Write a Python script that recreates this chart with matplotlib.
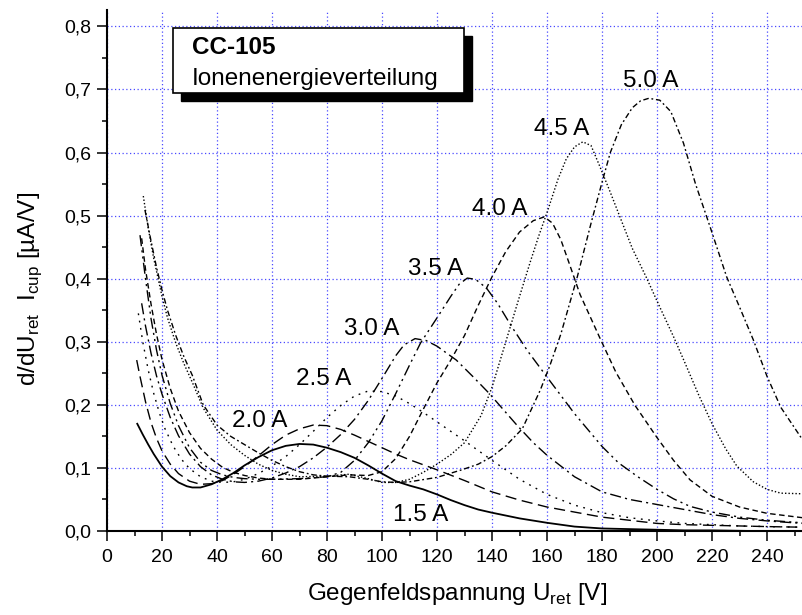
import matplotlib
matplotlib.use("Agg")
import matplotlib.pyplot as plt
from matplotlib.patches import Rectangle
from matplotlib.ticker import MultipleLocator, FuncFormatter

plt.rcParams['font.family'] = ['Liberation Sans', 'DejaVu Sans']
plt.rcParams['mathtext.fontset'] = 'custom'
plt.rcParams['mathtext.rm'] = 'Liberation Sans'

# curve data: x = U_ret [V], y = dI/dU [uA/V]
x15 = [11, 13, 15, 17, 20, 23, 26, 29, 31, 34, 38, 42, 46, 50, 55, 60, 65, 70, 75, 80,
       85, 90, 95, 100, 105, 110, 115, 120, 125, 130, 135, 140, 150, 160, 170, 180, 190,
       200, 210, 220, 235, 253]
y15 = [0.170, 0.153, 0.137, 0.122, 0.102, 0.087, 0.077, 0.071, 0.069, 0.069, 0.074, 0.082,
       0.092, 0.104, 0.117, 0.128, 0.135, 0.138, 0.137, 0.132, 0.125, 0.116, 0.104, 0.091,
       0.079, 0.072, 0.066, 0.058, 0.049, 0.041, 0.034, 0.029, 0.020, 0.013, 0.007, 0.004,
       0.003, 0.002, 0.001, 0.001, 0.000, 0.000]

x20 = [10.8, 12, 14, 16, 18, 20, 23, 26, 30, 34, 38, 42, 46, 50, 55, 60, 65, 70, 75, 80,
       85, 90, 95, 100, 105, 110, 115, 120, 130, 140, 150, 160, 170, 180, 190, 200, 210,
       220, 230, 240, 253]
y20 = [0.271, 0.245, 0.205, 0.172, 0.147, 0.127, 0.106, 0.091, 0.079, 0.074, 0.075, 0.080,
       0.090, 0.102, 0.119, 0.137, 0.152, 0.162, 0.168, 0.167, 0.161, 0.152, 0.142, 0.132,
       0.122, 0.113, 0.105, 0.097, 0.080, 0.062, 0.049, 0.038, 0.030, 0.022, 0.017, 0.012,
       0.010, 0.009, 0.008, 0.007, 0.006]

x25 = [11.4, 13, 15, 17, 19, 21, 24, 27, 30, 34, 38, 42, 46, 50, 55, 60, 65, 70, 75, 80,
       85, 90, 95, 100, 105, 110, 115, 120, 125, 130, 140, 150, 160, 170, 180, 190, 200,
       210, 220, 230, 240, 253]
y25 = [0.345, 0.300, 0.255, 0.218, 0.188, 0.163, 0.135, 0.114, 0.099, 0.086, 0.079, 0.077,
       0.078, 0.082, 0.091, 0.103, 0.118, 0.137, 0.158, 0.180, 0.199, 0.214, 0.222, 0.221,
       0.214, 0.202, 0.188, 0.173, 0.158, 0.143, 0.112, 0.082, 0.058, 0.041, 0.029, 0.021,
       0.016, 0.012, 0.010, 0.008, 0.007, 0.006]

x30 = [12.6, 14, 16, 18, 20, 23, 26, 30, 34, 38, 42, 46, 50, 55, 60, 65, 70, 75, 80, 85,
       90, 95, 100, 105, 108, 112, 116, 120, 127, 133, 139, 144, 149, 155, 160, 170, 180,
       190, 200, 210, 220, 230, 240, 253]
y30 = [0.361, 0.325, 0.282, 0.246, 0.217, 0.180, 0.151, 0.122, 0.102, 0.089, 0.082, 0.078,
       0.077, 0.079, 0.084, 0.092, 0.102, 0.116, 0.133, 0.153, 0.177, 0.207, 0.242, 0.278,
       0.295, 0.305, 0.302, 0.293, 0.271, 0.245, 0.218, 0.193, 0.168, 0.140, 0.120, 0.086,
       0.062, 0.050, 0.042, 0.034, 0.026, 0.020, 0.016, 0.012]

x35 = [12, 14, 16, 18, 20, 23, 26, 30, 34, 38, 42, 46, 50, 55, 60, 70, 80, 85, 90, 95,
       100, 105, 110, 114, 120, 125, 128, 131, 134, 138, 142, 147, 153, 160, 170, 180, 186,
       193, 200, 206, 212, 220, 230, 240, 253]
y35 = [0.469, 0.400, 0.337, 0.287, 0.247, 0.202, 0.167, 0.132, 0.109, 0.096, 0.089, 0.085,
       0.083, 0.082, 0.082, 0.083, 0.086, 0.093, 0.112, 0.140, 0.175, 0.218, 0.263, 0.298,
       0.338, 0.372, 0.391, 0.401, 0.399, 0.385, 0.361, 0.325, 0.285, 0.244, 0.186, 0.134,
       0.108, 0.086, 0.066, 0.051, 0.039, 0.030, 0.022, 0.017, 0.013]

x40 = [12.6, 14, 16, 18, 20, 23, 26, 30, 34, 38, 42, 46, 50, 55, 60, 70, 80, 88, 95, 100,
       105, 110, 115, 120, 125, 130, 135, 140, 145, 150, 155, 159, 162, 165, 168, 172, 179,
       185, 192, 200, 206, 212, 220, 230, 240, 253]
y40 = [0.464, 0.415, 0.360, 0.312, 0.272, 0.226, 0.190, 0.156, 0.131, 0.114, 0.101, 0.093,
       0.088, 0.084, 0.082, 0.082, 0.086, 0.089, 0.088, 0.094, 0.115, 0.150, 0.193, 0.235,
       0.271, 0.310, 0.358, 0.403, 0.443, 0.474, 0.492, 0.498, 0.488, 0.462, 0.425, 0.375,
       0.308, 0.252, 0.199, 0.148, 0.112, 0.081, 0.055, 0.038, 0.028, 0.021]

x45 = [13.2, 15, 17, 20, 22, 25, 28, 31, 35, 40, 45, 50, 55, 60, 65, 70, 80, 88, 95, 100,
       105, 110, 115, 120, 125, 130, 136, 140, 145, 150, 154, 157, 160, 164, 167, 170, 173,
       176, 179, 183, 186.5, 191, 196, 201, 206, 210, 215, 220, 225, 229, 235, 240, 245, 253]
y45 = [0.531, 0.480, 0.432, 0.372, 0.338, 0.298, 0.265, 0.236, 0.195, 0.160, 0.137, 0.120,
       0.106, 0.096, 0.090, 0.086, 0.087, 0.090, 0.083, 0.077, 0.077, 0.082, 0.093, 0.106,
       0.121, 0.140, 0.183, 0.228, 0.300, 0.372, 0.428, 0.468, 0.505, 0.558, 0.590, 0.609,
       0.617, 0.611, 0.580, 0.537, 0.498, 0.448, 0.403, 0.355, 0.308, 0.268, 0.217, 0.170,
       0.130, 0.103, 0.078, 0.066, 0.060, 0.059]

x50 = [13.8, 16, 18, 20, 22, 25, 28, 31, 35, 40, 45, 50, 55, 60, 65, 70, 75, 80, 88, 95,
       100, 105, 110, 120, 129, 135, 140, 145, 151, 157.5, 161, 165, 171, 176, 180, 183,
       187, 191, 194, 197, 201, 205, 209.6, 214, 219.3, 225.3, 230, 235, 240, 245, 253]
y50 = [0.509, 0.460, 0.418, 0.382, 0.350, 0.310, 0.276, 0.247, 0.200, 0.168, 0.150, 0.137,
       0.124, 0.112, 0.102, 0.094, 0.089, 0.087, 0.086, 0.082, 0.078, 0.077, 0.078, 0.085,
       0.097, 0.106, 0.118, 0.135, 0.162, 0.223, 0.262, 0.312, 0.403, 0.488, 0.553, 0.600,
       0.644, 0.671, 0.682, 0.686, 0.683, 0.665, 0.615, 0.550, 0.482, 0.403, 0.355, 0.303,
       0.245, 0.196, 0.144]

labels = ['1.5 A', '2.0 A', '2.5 A', '3.0 A', '3.5 A', '4.0 A', '4.5 A', '5.0 A']
label_x = [114.2, 55.5, 78.9, 96.4, 119.6, 142.9, 165.2, 197.8]
label_y = [0.0163, 0.1648, 0.2314, 0.3106, 0.4057, 0.5008, 0.6276, 0.7036]

xs = [x15, x20, x25, x30, x35, x40, x45, x50]
ys = [y15, y20, y25, y30, y35, y40, y45, y50]
styles = ['-', (0, (8, 4)), (0, (1.3, 4)), (0, (8, 3, 1.5, 3)),
          (0, (8, 3, 1.5, 3, 1.5, 3)), (0, (4, 2.5)), (0, (1, 1.5)), (0, (4, 2, 1.3, 2))]
widths = [1.3, 1, 1, 1, 1, 1, 1, 1]

fig = plt.figure(figsize=(8.02, 6.15), dpi=100)
ax = fig.add_axes([107 / 802, 84 / 615, 695 / 802, 521 / 615])

for x, y, ls, lw in zip(xs, ys, styles, widths):
    ax.plot(x, y, color='black', linestyle=ls, linewidth=lw, zorder=3)

for t, tx, ty in zip(labels, label_x, label_y):
    ax.text(tx, ty, t, fontsize=17.5, ha='center', va='baseline', zorder=4)

ax.set_xlim(0, 252.7)
ax.set_ylim(0, 0.826)
ax.xaxis.set_major_locator(MultipleLocator(20))
ax.xaxis.set_minor_locator(MultipleLocator(10))
ax.yaxis.set_major_locator(MultipleLocator(0.1))
ax.yaxis.set_minor_locator(MultipleLocator(0.05))
ax.yaxis.set_major_formatter(FuncFormatter(lambda v, p: ('%.1f' % v).replace('.', ',')))
ax.grid(True, which='major', color='#4a4aff', linestyle=(0, (1, 2)), linewidth=0.9)
ax.set_axisbelow(True)

for s in ['top', 'right']:
    ax.spines[s].set_visible(False)
for s in ['left', 'bottom']:
    ax.spines[s].set_linewidth(1.5)
ax.tick_params(which='major', direction='out', length=7, width=1.1, labelsize=14)
ax.tick_params(axis='x', which='major', pad=6)
ax.tick_params(axis='y', which='major', pad=4)
ax.tick_params(which='minor', direction='out', length=3.6, width=1.1)

ax.text(0.504, -0.1324, r'Gegenfeldspannung U$_\mathregular{ret}$ [V]', transform=ax.transAxes,
        fontsize=17.5, ha='center', va='baseline')
ax.text(-0.111, 0.465, r'd/dU$_\mathregular{ret}$  I$_\mathregular{cup}$ [µA/V]',
        transform=ax.transAxes, fontsize=17.5, rotation=90, ha='center', va='center')

# title box with shadow
bx0, bx1, by0, by1 = 0.0945, 0.514, 0.840, 0.965
ax.add_patch(Rectangle((bx0 + 0.0115, by0 - 0.0154), bx1 - bx0, by1 - by0, transform=ax.transAxes,
                       facecolor='black', edgecolor='black', zorder=5, clip_on=False))
ax.add_patch(Rectangle((bx0, by0), bx1 - bx0, by1 - by0, transform=ax.transAxes,
                       facecolor='white', edgecolor='black', linewidth=1.2, zorder=6, clip_on=False))
ax.text(0.1223, 0.9155, 'CC-105', transform=ax.transAxes, fontsize=17.5, fontweight='bold',
        va='baseline', zorder=7)
ax.text(0.1223, 0.856, 'Ionenenergieverteilung', transform=ax.transAxes, fontsize=17.5,
        va='baseline', zorder=7)

fig.savefig('out.png', dpi=100)
